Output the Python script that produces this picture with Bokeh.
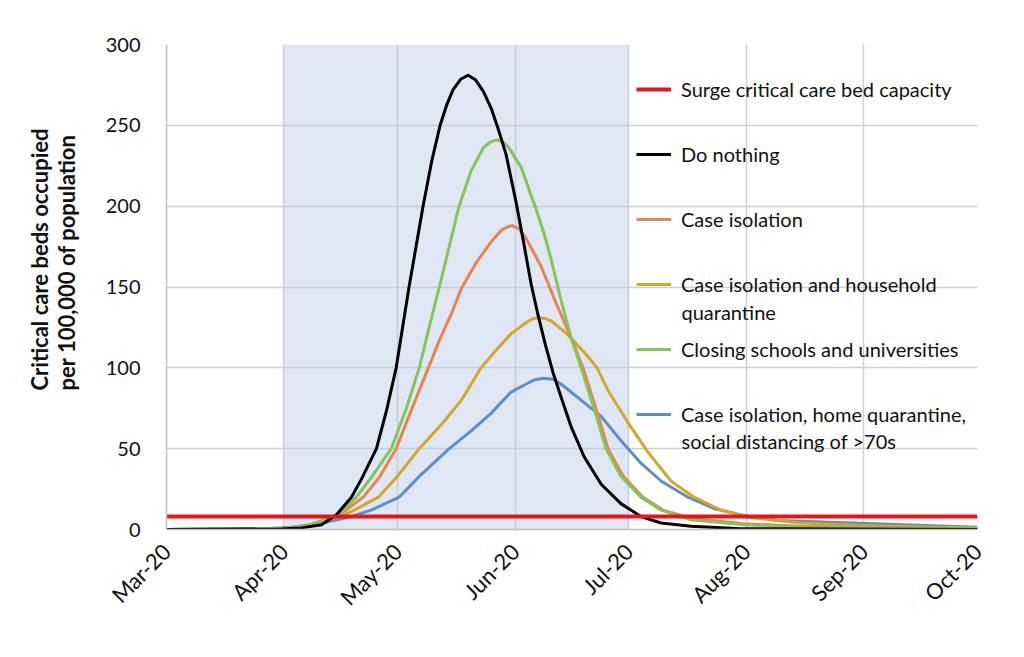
import math
import pandas as pd
from bokeh.plotting import figure
from bokeh.models import (BoxAnnotation, Legend, LegendItem, Label, DatetimeTickFormatter,
                          FixedTicker, Range1d, Title)
from bokeh.embed import file_html
from bokeh.resources import INLINE

# ---------------- data (days counted from 1 Mar 2020) ----------------
BASE = pd.Timestamp("2020-03-01")
month_ticks = ["2020-03-01", "2020-04-01", "2020-05-01", "2020-06-01",
               "2020-07-01", "2020-08-01", "2020-09-01", "2020-10-01"]
shade_start = "2020-04-01"
shade_end = "2020-07-01"

capacity_days = [0, 214]
capacity_vals = [8, 8]

nothing_days = [0, 30.3, 35.6, 40.9, 44.8, 48.8, 51.4, 55.4, 58.0, 60.6, 64.0, 67.7, 70.0, 72.2,
                74.0, 75.6, 77.6, 79.6, 81.6, 83.6, 85.6, 87.5, 89.6, 92.2, 94.2, 96.2, 98.0,
                100.0, 102.0, 104.4, 106.7, 110.2, 114.7, 119.9, 125.2, 130.5, 138.4, 151.6, 214]
nothing_vals = [0, 0.3, 1, 3, 9, 20, 31, 50, 73, 100, 150, 200, 228, 250,
                263, 272, 278.5, 281, 278, 271, 261, 248, 232, 203, 178, 152, 133,
                114, 97, 80, 64, 45, 28, 16, 8, 4, 2, 0.5, 0]

case_days = [0, 30.3, 36.9, 43.5, 47.4, 51.9, 56.1, 60.6, 64.8, 69.1, 72.0, 75.1, 77.8, 81.7,
             85.7, 88.3, 89.8, 91.2, 93.0, 94.9, 98.8, 102.8, 106.7, 109.9, 113.3, 116.5, 120.5,
             125.7, 131.0, 138.4, 152.3, 167.4, 214]
case_vals = [0, 0.5, 2, 7.5, 12, 20, 32, 50, 75, 100, 117, 133, 149, 165,
             178, 185, 187, 188, 186, 180, 163, 140, 119, 100, 75, 50, 33,
             20, 12, 7, 3.5, 2, 0.5]

household_days = [0, 30.3, 36.9, 44.8, 48.8, 55.9, 60.6, 66.7, 73.3, 77.8, 83.0, 87.0, 90.9,
                  94.9, 96.6, 98.3, 100.0, 101.5, 105.7, 111.2, 113.6, 116.5, 121.8, 127.0,
                  133.1, 139.2, 146.3, 153.4, 161.3, 167.4, 183.2, 214]
household_vals = [0, 0.5, 2, 7.5, 11, 20, 32, 50, 67, 80, 100, 111, 121,
                  128, 130.3, 131, 130.5, 129, 121, 107, 100, 86, 66, 48,
                  30, 20, 12, 7.6, 5.6, 4, 2.5, 1]

schools_days = [0, 30.3, 36.9, 43.5, 46.7, 50.1, 54.0, 59.3, 63.3, 66.7, 69.3, 72.0, 74.6, 77.2,
                80.4, 83.6, 85.3, 87.0, 88.6, 90.1, 93.6, 96.0, 98.0, 100.0, 101.5, 104.1, 106.7,
                109.4, 112.8, 116.0, 119.9, 125.2, 130.5, 138.4, 152.3, 167.4, 214]
schools_vals = [0, 0.5, 2, 7.5, 12, 20, 32, 50, 75, 100, 125, 150, 175, 200,
                222, 236, 239.5, 241, 240, 237, 224, 208, 195, 180, 167, 142, 119,
                100, 75, 50, 33, 20, 12, 6, 3, 1.5, 0.3]

distancing_days = [0, 25.0, 32.9, 40.1, 48.0, 54.0, 61.4, 67.2, 74.6, 80.4, 85.7, 90.9, 94.9,
                   97.0, 99.4, 102.0, 104.1, 109.4, 114.7, 119.9, 121.8, 125.2, 130.5, 137.6,
                   144.4, 152.3, 161.3, 183.2, 214]
distancing_vals = [0, 0.3, 1.4, 3.5, 7.5, 12, 20, 34, 50, 61, 72, 85, 90,
                   92.5, 93.6, 93, 90, 80, 70, 55, 50, 41, 30, 20,
                   13, 8.7, 5.6, 3.9, 1.4]

y_ticks = [0, 50, 100, 150, 200, 250, 300]

y_title = "Critical care beds occupied\nper 100,000 of population"
labels = ["Surge critical care bed capacity", "Do nothing", "Case isolation",
          "Case isolation and household\nquarantine", "Closing schools and universities",
          "Case isolation, home quarantine,\nsocial distancing of >70s"]
colors = ["#e8141c", "#000000", "#e8844f", "#d4a72a", "#86c35a", "#5b8fc8"]


def to_dates(days):
    return [BASE + pd.Timedelta(days=d) for d in days]


FONT = "Lato"
p = figure(width=1024, height=657, x_axis_type="datetime", output_backend="svg",
           toolbar_location=None,
           x_range=Range1d(pd.Timestamp(month_ticks[0]), pd.Timestamp(month_ticks[-1])),
           y_range=Range1d(0, 300),
           min_border_left=165, min_border_right=47, min_border_top=44, min_border_bottom=128)
p.outline_line_color = None
p.background_fill_color = "white"

tick_ms = [pd.Timestamp(t).value // 10**6 for t in month_ticks]
p.xaxis.ticker = FixedTicker(ticks=tick_ms)
p.yaxis.ticker = FixedTicker(ticks=y_ticks)
fmt = "%b-%y"
p.xaxis.formatter = DatetimeTickFormatter(microseconds=fmt, milliseconds=fmt, seconds=fmt,
                                          minsec=fmt, minutes=fmt, hourmin=fmt, hours=fmt,
                                          days=fmt, months=fmt, years=fmt)
p.xgrid.ticker = FixedTicker(ticks=tick_ms)
p.ygrid.ticker = FixedTicker(ticks=y_ticks)
for g in (p.xgrid, p.ygrid):
    g.grid_line_color = "#d0d0d0"
    g.grid_line_width = 1.5

for ax in (p.xaxis, p.yaxis):
    ax.axis_line_color = "#bfbfbf"
    ax.axis_line_width = 1.5
    ax.major_tick_line_color = None
    ax.minor_tick_line_color = None
    ax.major_label_text_font = FONT
    ax.major_label_text_color = "#111111"

p.yaxis.major_label_text_font_size = "20px"
p.xaxis.major_label_text_font_size = "22px"
p.xaxis.major_label_orientation = math.pi / 4
p.xaxis.major_label_standoff = 12
p.yaxis.major_label_standoff = 20

shade = BoxAnnotation(left=pd.Timestamp(shade_start), right=pd.Timestamp(shade_end),
                      fill_color="#b8c9e8", fill_alpha=0.45, line_color=None, level="underlay")
p.add_layout(shade)

series = [
    (distancing_days, distancing_vals, 5),
    (household_days, household_vals, 3),
    (case_days, case_vals, 2),
    (schools_days, schools_vals, 4),
    (nothing_days, nothing_vals, 1),
    (capacity_days, capacity_vals, 0),
]
renderers = {}
for days, vals, idx in series:
    r = p.line(to_dates(days), vals, line_color=colors[idx],
               line_width=4 if idx == 0 else 3, line_join="round")
    renderers[idx] = r

items = []
for i in range(6):
    first_line = labels[i].split("\n")[0]
    items.append(LegendItem(label=first_line, renderers=[renderers[i]]))
legend = Legend(items=items, location=(470, 103), padding=0, margin=0,
                border_line_color=None, background_fill_alpha=0,
                glyph_width=35, glyph_height=24, label_height=24, label_standoff=10,
                spacing=41, label_text_font=FONT, label_text_font_size="20px",
                label_text_color="#111111")
p.add_layout(legend)

for i, ypos in ((3, 218), (5, 89)):
    second = labels[i].split("\n")[1]
    p.add_layout(Label(x=515, y=ypos, x_units="screen", y_units="screen", text=second,
                       text_font=FONT, text_font_size="20px", text_color="#111111",
                       text_baseline="middle"))

# two-line y-axis title, its upper end placed below the top of the plot area
p.add_layout(Title(text=y_title, align="right", offset=84, standoff=46,
                   text_font=FONT, text_font_size="22px", text_font_style="bold",
                   text_color="#111111", text_line_height=1.0), "left")

open("out.html", "w").write(file_html(p, INLINE))
